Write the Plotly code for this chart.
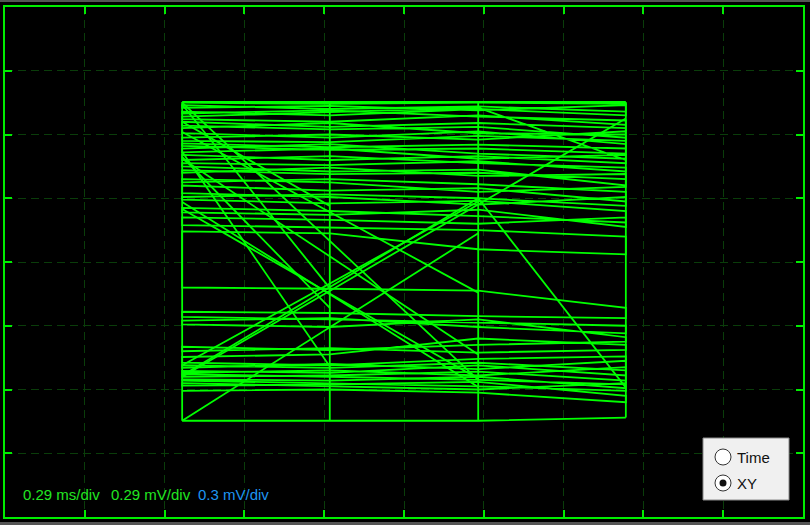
import plotly.graph_objects as go

# XY mode trace, values in screen divisions (10 x 8 divisions on the display)
x_levels = [-2.78, -0.93, 0.93, 2.78]

# near horizontal sweeps across the four x levels (y at level 0..3)
upper_sweeps = [
    [2.50, 2.48, 2.50, 2.48],
    [2.46, 2.40, 2.44, 2.36],
    [2.42, 2.45, 2.38, 2.46],
    [2.36, 2.30, 2.40, 2.30],
    [2.33, 2.38, 2.28, 2.22],
    [2.28, 2.35, 2.42, 1.60],
    [2.24, 2.20, 2.30, 2.15],
    [2.20, 2.12, 2.18, 2.10],
    [2.14, 2.08, 2.12, 1.95],
    [2.10, 2.18, 2.02, 2.00],
    [2.02, 1.95, 2.05, 1.85],
    [1.95, 2.00, 1.92, 2.05],
    [1.90, 1.88, 1.98, 1.90],
    [1.86, 1.80, 1.84, 1.78],
    [1.82, 1.76, 1.78, 1.70],
    [1.78, 1.85, 1.70, 1.62],
    [1.72, 1.78, 1.62, 1.68],
    [1.68, 1.60, 1.66, 1.55],
    [1.60, 1.66, 1.55, 1.48],
    [1.55, 1.52, 1.58, 1.42],
    [1.50, 1.42, 1.45, 1.20],
    [1.44, 1.38, 1.40, 1.30],
    [1.40, 1.48, 1.35, 1.38],
    [1.30, 1.25, 1.10, 1.18],
    [1.25, 1.30, 1.22, 1.10],
    [1.20, 1.12, 1.16, 0.95],
    [1.08, 1.02, 0.90, 1.02],
    [1.02, 1.06, 1.00, 0.88],
    [0.98, 0.92, 0.96, 0.80],
    [0.85, 0.80, 0.72, 0.62],
    [0.78, 0.74, 0.82, 0.55],
    [0.70, 0.66, 0.60, 0.70],
    [0.58, 0.54, 0.50, 0.40],
    [0.48, 0.45, 0.20, 0.12],
]
middle_sweeps = [
    [-0.40, -0.42, -0.45, -0.72],
    [-0.78, -0.80, -0.85, -0.88],
    [-0.86, -0.90, -0.95, -1.00],
    [-0.92, -0.88, -1.02, -1.12],
    [-0.98, -1.02, -0.90, -1.18],
]
lower_sweeps = [
    [-1.33, -1.38, -1.30, -1.25],
    [-1.40, -1.35, -1.42, -1.38],
    [-1.49, -1.45, -1.20, -1.30],
    [-1.58, -1.62, -1.52, -1.48],
    [-1.62, -1.66, -1.58, -1.70],
    [-1.66, -1.60, -1.68, -1.55],
    [-1.71, -1.74, -1.62, -1.78],
    [-1.74, -1.70, -1.78, -1.65],
    [-1.76, -1.80, -1.85, -1.92],
    [-1.80, -1.78, -1.72, -1.86],
    [-1.84, -1.86, -1.80, -1.98],
    [-1.86, -1.90, -1.95, -2.02],
    [-1.90, -1.95, -2.00, -1.90],
    [-1.94, -1.92, -1.88, -2.10],
    [-2.02, -2.00, -2.05, -2.20],
]

# outline of the trace: top and bottom rails
top_rail = [2.51, 2.51, 2.51, 2.51]
bottom_rail = [-2.49, -2.49, -2.49, -2.44]

# jumps between levels that are not neighbours
diag_from_lvl = [0, 0, 0, 0, 0, 0, 0, 0, 0, 3, 2, 2, 2, 0]
diag_from_y = [2.50, 2.47, 2.04, 1.73, 1.65, 1.62, 0.94, 0.83, 2.20, 2.25, 1.00, 0.95, 1.00, -2.49]
diag_to_lvl = [2, 1, 2, 1, 1, 2, 2, 2, 1, 0, 0, 0, 3, 2]
diag_to_y = [-1.85, -0.41, -0.48, -1.64, -0.72, -1.45, -1.96, -1.83, 0.88, -1.80, -1.78, -1.62, -1.97, 0.45]

ch_labels = ["0.29 ms/div", "0.29 mV/div", "0.3 mV/div"]
ch_colors = ["#22e622", "#22e622", "#1e96f0"]
ch_x = [21, 109, 196]
modes = ["Time", "XY"]
selected_mode = "XY"

green = "#00ff00"

xs, ys = [], []
# sweeps drawn as one zig-zag path
for i, sw in enumerate(upper_sweeps + middle_sweeps + lower_sweeps):
    order = range(4) if i % 2 == 0 else range(3, -1, -1)
    for k in order:
        xs.append(x_levels[k])
        ys.append(sw[k])
xs.append(None)
ys.append(None)

# rails and the vertical edges at every level
for rail in (top_rail, bottom_rail):
    xs += x_levels + [None]
    ys += rail + [None]
for k in range(4):
    xs += [x_levels[k], x_levels[k], None]
    ys += [top_rail[k], bottom_rail[k], None]

for a, ya, b, yb in zip(diag_from_lvl, diag_from_y, diag_to_lvl, diag_to_y):
    xs += [x_levels[a], x_levels[b], None]
    ys += [ya, yb, None]

fig = go.Figure()
fig.add_trace(go.Scatter(x=xs, y=ys, mode="lines", line=dict(color=green, width=1.8),
                         hoverinfo="skip", showlegend=False))

W, H = 810, 525
L, R, T, B = 5, 7, 7, 8
pw, ph = W - L - R, H - T - B


def px(x):
    return (x - L) / pw


def py(y):
    return (H - B - y) / ph


axis_style = dict(
    showgrid=True, gridcolor="#0a3d0a", gridwidth=1, griddash="8px,5px",
    showline=True, linecolor="#00ee00", linewidth=1.5, mirror="ticks",
    ticks="inside", ticklen=7, tickwidth=1.5, tickcolor="#00ee00",
    showticklabels=False, zeroline=False, dtick=1, tick0=0, fixedrange=True,
)

shapes = [
    # window edges
    dict(type="rect", xref="paper", yref="paper", x0=px(0), x1=px(W), y0=py(2), y1=py(0),
         fillcolor="#555555", line_width=0, layer="above"),
    dict(type="rect", xref="paper", yref="paper", x0=px(0), x1=px(W), y0=py(H), y1=py(522),
         fillcolor="#555555", line_width=0, layer="above"),
    # mode selector box
    dict(type="rect", xref="paper", yref="paper", x0=px(703), x1=px(789), y0=py(500), y1=py(438),
         fillcolor="#f0f0f0", line=dict(color="#8a8a8a", width=1), layer="above"),
]
annotations = []
for i, m in enumerate(modes):
    cy = 457 + 26 * i
    shapes.append(dict(type="circle", xref="paper", yref="paper",
                       x0=px(715), x1=px(731), y0=py(cy + 8), y1=py(cy - 8),
                       fillcolor="white", line=dict(color="#333333", width=1), layer="above"))
    if m == selected_mode:
        shapes.append(dict(type="circle", xref="paper", yref="paper",
                           x0=px(719.5), x1=px(726.5), y0=py(cy + 3.5), y1=py(cy - 3.5),
                           fillcolor="#111111", line_width=0, layer="above"))
    annotations.append(dict(text=m, xref="paper", yref="paper", x=px(735), y=py(cy),
                            xanchor="left", yanchor="middle", showarrow=False,
                            font=dict(size=15, color="#111111")))

for lab, col, x in zip(ch_labels, ch_colors, ch_x):
    annotations.append(dict(text=lab, xref="paper", yref="paper", x=px(x), y=py(494),
                            xanchor="left", yanchor="middle", showarrow=False,
                            font=dict(size=15, color=col)))

fig.update_layout(
    width=W, height=H,
    margin=dict(l=L, r=R, t=T, b=B, pad=0),
    paper_bgcolor="black", plot_bgcolor="black",
    font=dict(family="Liberation Sans, Arial, sans-serif"),
    xaxis=dict(range=[-5, 5], **axis_style),
    yaxis=dict(range=[-4, 4], **axis_style),
    shapes=shapes, annotations=annotations,
)

# page has a default 8px body margin; drop it so the figure sits at the window corner
fig.write_html("out.html", config={"displayModeBar": False},
               post_script="document.body.style.margin='0';"
                           "document.body.style.background='black';")
